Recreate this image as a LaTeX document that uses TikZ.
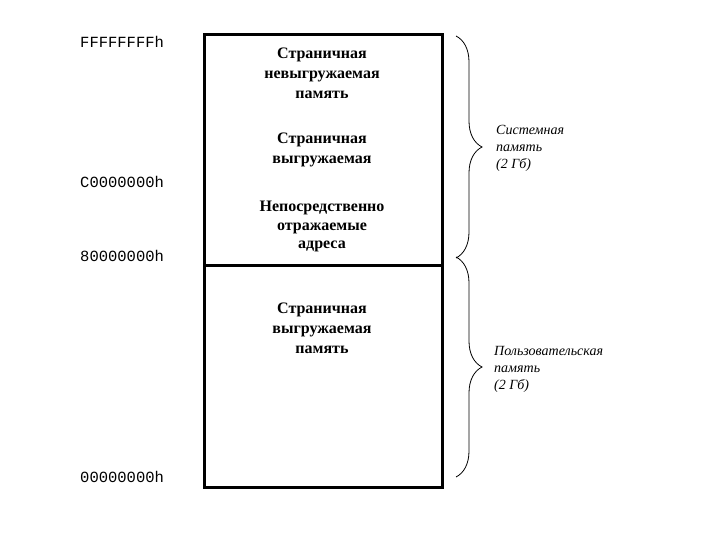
\documentclass[tikz,border=0pt]{standalone}
\usepackage{fontspec}
\setmainfont{Liberation Serif}
\newfontfamily\addrfont{Liberation Mono}
\usetikzlibrary{decorations.pathreplacing}
\tikzset{
  region/.style={draw, line width=2.6pt, minimum width=238pt, inner sep=0pt, anchor=north west},
  boxtext/.style={align=center, font=\fontsize{16}{20}\selectfont\bfseries, inner sep=0pt, anchor=north},
  addr/.style={font=\addrfont\fontsize{15.5}{18}\selectfont, anchor=west, inner sep=0pt},
  sidetext/.style={align=left, font=\fontsize{14}{17}\selectfont\itshape, anchor=west, inner sep=0pt},
  bracestyle/.style={decorate, decoration={brace, amplitude=26pt}, line width=0.8pt}
}
\begin{document}
\begin{tikzpicture}[x=1pt, y=-1pt]
\useasboundingbox (0,0) rectangle (720,540);
% memory regions
\node[region, minimum height=231pt] (sys) at (203,33) {};
\node[region, minimum height=222pt] (usr) at (203,264) {};
% box texts
\node[boxtext] (t1) at (322,48) {Страничная\\невыгружаемая\\память};
\node[boxtext] (t2) at (322,133) {Страничная\\выгружаемая};
\node[boxtext, font=\fontsize{16}{18.5}\selectfont\bfseries] (t3) at (322,201) {Непосредственно\\отражаемые\\адреса};
\node[boxtext] (t4) at (322,303) {Страничная\\выгружаемая\\память};
% addresses
\node[addr] (a1) at (80,42) {FFFFFFFFh};
\node[addr] (a2) at (80,182) {C0000000h};
\node[addr] (a3) at (80,256) {80000000h};
\node[addr] (a4) at (80,477) {00000000h};
% braces
\coordinate (b1s) at (456,36);
\coordinate (b1e) at (456,258);
\coordinate (b2s) at (456,257);
\coordinate (b2e) at (456,477);
\draw[bracestyle] (b1s) -- (b1e);
\draw[bracestyle] (b2s) -- (b2e);
% side labels
\node[sidetext] (s1) at (496,148) {Системная\\память\\(2 Гб)};
\node[sidetext] (s2) at (494,369) {Пользовательская\\память\\(2 Гб)};
\end{tikzpicture}
\end{document}
